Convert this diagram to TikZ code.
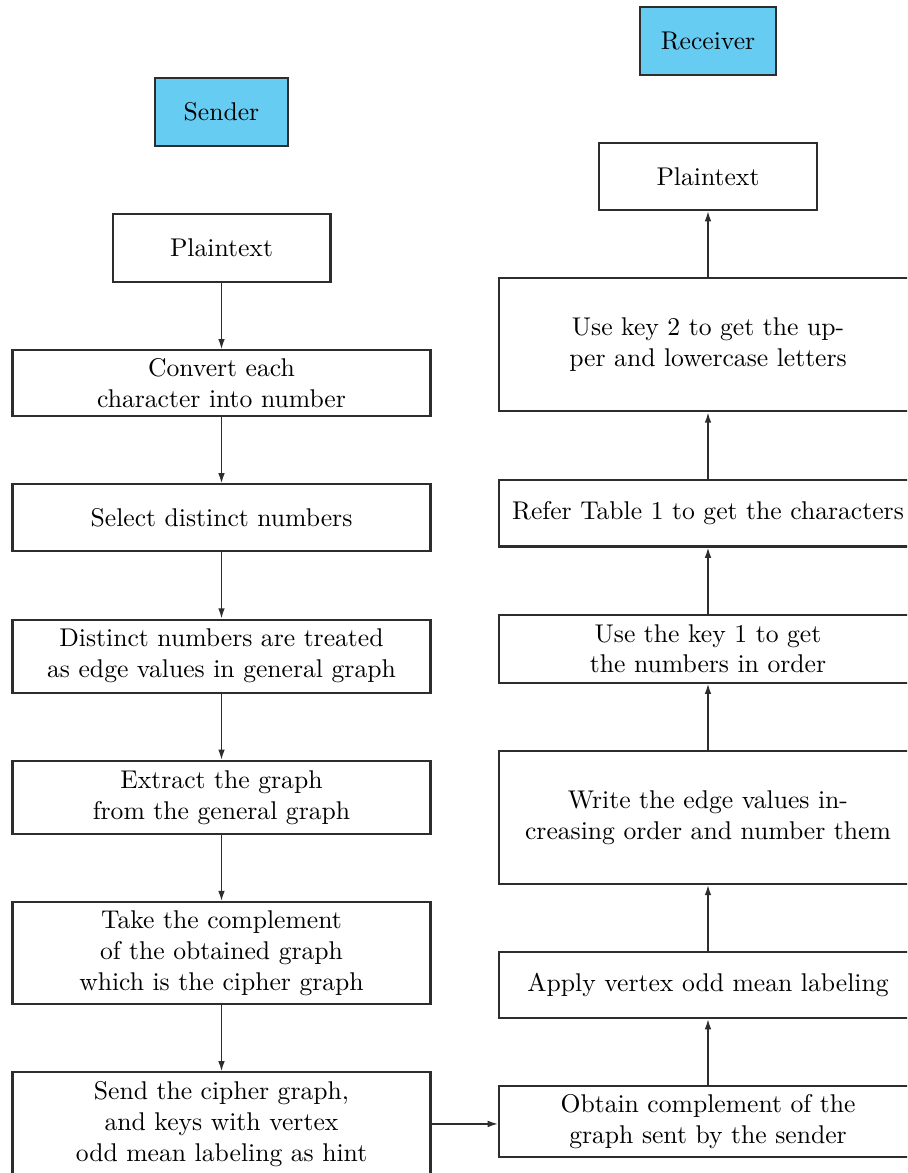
\documentclass[tikz,border=0pt]{standalone}
\usepackage{xcolor}
\usepackage{tikz}
\usetikzlibrary{arrows.meta,positioning}
\definecolor{skyfill}{RGB}{102,204,242}
\definecolor{linegray}{RGB}{45,45,45}

\begin{document}
\begin{tikzpicture}[x=0.39pt,y=-0.39pt,node distance=25.8pt,
          box/.style={draw=linegray,thick,minimum width=163pt,
                      minimum height=26.5pt,align=center,inner sep=3pt},
          head/.style={box,fill=skyfill,minimum width=52pt},
          flow/.style={-{Latex[length=4pt,width=2.6pt]},semithick,linegray}]
  \clip (0,0) rectangle (907,1173);
  % sender side
  \node[head] (sd) at (221.5,112) {Sender};
  \node[box,minimum width=85pt,below=of sd] (a) {Plaintext};
  \node[box,minimum height=25.7pt,below=of a] (b) {
    Convert each\\ character into number};
  \node[box,minimum height=26.1pt,below=of b] (c) {Select distinct numbers};
  \node[box,minimum height=28.5pt,below=of c] (d) {
    Distinct numbers are treated\\ as edge values in general graph};
  \node[box,minimum height=28.5pt,below=of d] (e) {
    Extract the graph\\ from the general graph};
  \node[box,minimum height=39.8pt,below=of e] (f) {
    Take the complement\\ of the obtained graph\\ which is the cipher graph};
  \node[box,minimum height=40.2pt,below=of f] (g) {
    Send the cipher graph,\\ and keys with vertex\\ odd mean labeling as hint};
  % receiver side
  \node[head,minimum width=52.7pt] (rc) at (708,41) {Receiver};
  \node[box,minimum width=85pt,minimum height=26.1pt,below=of rc] (h) {Plaintext};
  \node[box,minimum height=51.9pt,below=of h] (i) {
    Use key 2 to get the up-\\ per and lowercase letters};
  \node[box,minimum height=26.1pt,below=of i] (j) {
    Refer Table 1 to get the characters};
  \node[box,below=of j] (k) {
    Use the key 1 to get\\ the numbers in order};
  \node[box,minimum height=51.9pt,below=of k] (l) {
    Write the edge values in-\\ creasing order and number them};
  \node[box,minimum height=25.7pt,below=of l] (m) {
    Apply vertex odd mean labeling};
  \node[box,minimum height=27.7pt,below=of m] (n) {
    Obtain complement of the\\ graph sent by the sender};
  % connectors
  \draw[flow] (a.south) -- (b.north);
  \draw[flow] (b.south) -- (c.north);
  \draw[flow] (c.south) -- (d.north);
  \draw[flow] (d.south) -- (e.north);
  \draw[flow] (e.south) -- (f.north);
  \draw[flow] (f.south) -- (g.north);
  \draw[flow] (g.east) -- (g.east -| n.west);
  \draw[flow] (n.north) -- (m.south);
  \draw[flow] (m.north) -- (l.south);
  \draw[flow] (l.north) -- (k.south);
  \draw[flow] (k.north) -- (j.south);
  \draw[flow] (j.north) -- (i.south);
  \draw[flow] (i.north) -- (h.south);
\end{tikzpicture}
\end{document}
